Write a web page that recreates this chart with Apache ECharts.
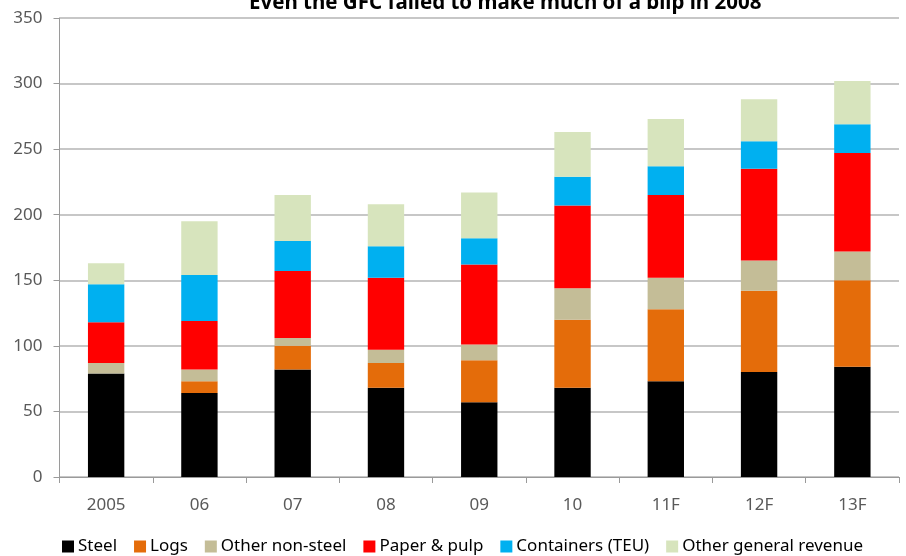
<!DOCTYPE html>
<html>
<head>
<meta charset="utf-8">
<script src="https://cdn.jsdelivr.net/npm/echarts@6/dist/echarts.min.js"></script>
<style>
  html, body { margin: 0; padding: 0; background: #fff; }
  #chart { width: 906px; height: 556px; }
</style>
</head>
<body>
<div id="chart"></div>
<script>
// Revenue by cargo type, stacked per year (F = forecast)
const years = ['2005', '06', '07', '08', '09', '10', '11F', '12F', '13F'];
const steel        = [79, 64, 82, 68, 57, 68, 73, 80, 84];
const logs         = [0, 9, 18, 19, 32, 52, 55, 62, 66];
const otherNonSteel = [8, 9, 6, 10, 12, 24, 24, 23, 22];
const paperPulp    = [31, 37, 51, 55, 61, 63, 63, 70, 75];
const containers   = [29, 35, 23, 24, 20, 22, 22, 21, 22];
const otherGeneral = [16, 41, 35, 32, 35, 34, 36, 32, 33];
const yTicks = [0, 50, 100, 150, 200, 250, 300, 350];

const seriesDefs = [
  { name: 'Steel', data: steel, color: '#000000' },
  { name: 'Logs', data: logs, color: '#E46C0A' },
  { name: 'Other non-steel', data: otherNonSteel, color: '#C4BD97' },
  { name: 'Paper & pulp', data: paperPulp, color: '#FF0000' },
  { name: 'Containers (TEU)', data: containers, color: '#00B0F0' },
  { name: 'Other general revenue', data: otherGeneral, color: '#D7E4BD' }
];

const font = 'Noto Sans, sans-serif';
const chart = echarts.init(document.getElementById('chart'), null, { renderer: 'canvas' });

chart.setOption({
  animation: false,
  title: {
    text: 'Even the GFC failed to make much of a blip in 2008',
    left: 244,
    top: -12,
    textStyle: { fontFamily: font, fontSize: 20.5, fontWeight: 'bold', color: '#000' }
  },
  grid: { left: 59.5, right: 7, top: 18, bottom: 79 },
  legend: {
    top: 538,
    left: 62,
    padding: 0,
    itemWidth: 12,
    itemHeight: 12,
    itemGap: 17,
    icon: 'rect',
    textStyle: { fontFamily: font, fontSize: 17, color: '#000', padding: [0, 0, 0, -1] },
    data: seriesDefs.map(s => s.name)
  },
  xAxis: {
    type: 'category',
    data: years,
    axisLine: { lineStyle: { color: '#9a9a9a', width: 1 } },
    axisTick: { show: true, length: 6, lineStyle: { color: '#9a9a9a' } },
    axisLabel: { fontFamily: font, fontSize: 17, color: '#595959', margin: 20 }
  },
  yAxis: {
    type: 'value',
    min: yTicks[0],
    max: yTicks[yTicks.length - 1],
    interval: 50,
    axisLine: { show: true, lineStyle: { color: '#9a9a9a', width: 1 } },
    axisTick: { show: true, length: 6, lineStyle: { color: '#9a9a9a' } },
    splitLine: { lineStyle: { color: '#b4b4b4', width: 1.5 } },
    axisLabel: { fontFamily: font, fontSize: 17, color: '#595959', margin: 17 }
  },
  series: seriesDefs.map(s => ({
    name: s.name,
    type: 'bar',
    stack: 'total',
    data: s.data,
    barWidth: '39%',
    itemStyle: { color: s.color }
  }))
});
</script>
</body>
</html>
